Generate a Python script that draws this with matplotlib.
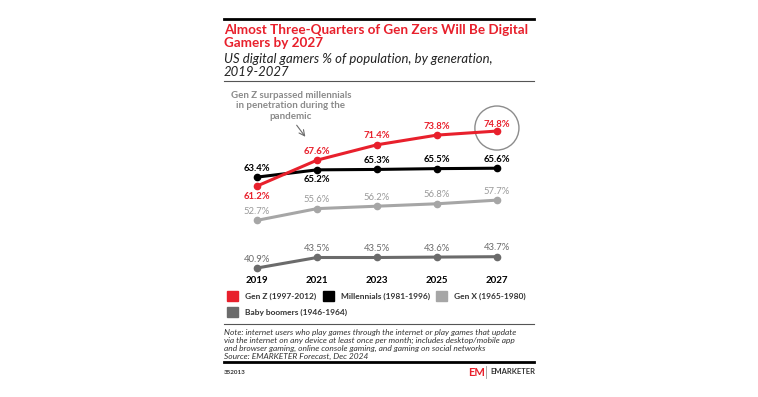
import matplotlib.pyplot as plt
from matplotlib.patches import Rectangle, Ellipse
from matplotlib.lines import Line2D

plt.rcParams['font.family'] = ['Lato', 'DejaVu Sans']

years = [2019, 2021, 2023, 2025, 2027]
gen_z = [61.2, 67.6, 71.4, 73.8, 74.8]
millennials = [63.4, 65.2, 65.3, 65.5, 65.6]
gen_x = [52.7, 55.6, 56.2, 56.8, 57.7]
boomers = [40.9, 43.5, 43.5, 43.6, 43.7]
legend_labels = ["Gen Z (1997-2012)", "Millennials (1981-1996)",
                 "Gen X (1965-1980)", "Baby boomers (1946-1964)"]

RED = '#e8202c'
BLACK = '#000000'
LGRAY = '#a6a6a6'
DGRAY = '#6b6b6b'

W, H = 758, 397
fig = plt.figure(figsize=(W / 100, H / 100), dpi=100)


def fx(x):
    return x / W


def fy(y):
    return 1 - y / H


# plot area
ax = fig.add_axes([fx(240), fy(272), (520 - 240) / W, (272 - 125) / H])
ax.set_xlim(2018.43, 2027.77)
ax.set_ylim(39.91, 76.3)
for s in ax.spines.values():
    s.set_visible(False)
ax.set_yticks([])
ax.set_xticks(years)
ax.set_xticklabels([str(y) for y in years], fontsize=7, fontweight='bold')
ax.tick_params(axis='x', length=0, pad=3)

series = [
    (gen_z, RED, RED, [-11, 9, 9, 9, 7], 'bold'),
    (millennials, BLACK, BLACK, [9, -10, 9, 9, 9], 'bold'),
    (gen_x, LGRAY, '#9a9a9a', [9, 9, 9, 9, 9], 'normal'),
    (boomers, DGRAY, DGRAY, [9, 9, 9, 9, 9], 'normal'),
]
for vals, col, tcol, offs, fw in series[::-1]:
    ax.plot(years, vals, color=col, lw=2.2, marker='o', ms=4.5, clip_on=False)
    for x, v, o in zip(years, vals, offs):
        ax.annotate(f"{v}%", (x, v), xytext=(0, o), textcoords='offset pixels',
                    ha='center', va='center', fontsize=6.8, color=tcol,
                    fontweight=fw)

# circle around final Gen Z value
ax.add_patch(Ellipse((years[-1], gen_z[-1] + 0.75), 1.47, 10.9, fill=False,
                     ec='#8c8c8c', lw=1, clip_on=False))

# annotation
fig.text(fx(291), fy(106), "Gen Z surpassed millennials\nin penetration during the\npandemic",
         ha='center', va='center', fontsize=7, color='#8a8a8a',
         fontweight='bold', linespacing=1.2)
ax.annotate('', xy=(307, H - 139), xytext=(295, H - 123),
            xycoords='figure pixels', textcoords='figure pixels',
            arrowprops=dict(arrowstyle='->', color='#6b6b6b', lw=0.8))

# header
fig.add_artist(Line2D([fx(224), fx(534)], [fy(19), fy(19)], color='black', lw=2))
fig.text(fx(224), fy(30), "Almost Three-Quarters of Gen Zers Will Be Digital",
         ha='left', va='center', fontsize=9.7, fontweight='bold', color=RED)
fig.text(fx(224), fy(43), "Gamers by 2027",
         ha='left', va='center', fontsize=9.7, fontweight='bold', color=RED)
fig.text(fx(224), fy(59), "US digital gamers % of population, by generation,",
         ha='left', va='center', fontsize=9.45, style='italic', color='#222222')
fig.text(fx(224), fy(72), "2019-2027",
         ha='left', va='center', fontsize=9.45, style='italic', color='#222222')
fig.add_artist(Line2D([fx(224), fx(534)], [fy(81), fy(81)], color='#555555', lw=0.8))

# legend
leg_pos = [(227, 296), (323, 296), (436, 296), (227, 312)]
for (lx, ly), col, lab in zip(leg_pos, [RED, BLACK, LGRAY, DGRAY], legend_labels):
    fig.add_artist(Rectangle((fx(lx), fy(ly + 5)), 11 / W, 10 / H,
                             color=col, transform=fig.transFigure))
    fig.text(fx(lx + 18), fy(ly), lab, ha='left', va='center', fontsize=6.0,
             fontweight='bold', color='#333333')

# footer
fig.add_artist(Line2D([fx(224), fx(534)], [fy(324), fy(324)], color='#555555', lw=0.8))
notes = ["Note: internet users who play games through the internet or play games that update",
         "via the internet on any device at least once per month; includes desktop/mobile app",
         "and browser gaming, online console gaming, and gaming on social networks",
         "Source: EMARKETER Forecast, Dec 2024"]
for i, t in enumerate(notes):
    fig.text(fx(224), fy(332 + 8 * i), t, ha='left', va='center', fontsize=6.05,
             style='italic', color='#333333')
fig.add_artist(Line2D([fx(224), fx(534)], [fy(362), fy(362)], color='black', lw=2))
fig.text(fx(224), fy(373), "352013", ha='left', va='center', fontsize=4.5,
         fontweight='bold', color='#333333')
fig.text(fx(468), fy(372), "EM", ha='left', va='center', fontsize=8,
         fontweight='bold', color=RED)
fig.add_artist(Line2D([fx(486), fx(486)], [fy(366), fy(378)], color='#999999', lw=0.6))
fig.text(fx(490), fy(372), "EMARKETER", ha='left', va='center', fontsize=5.5,
         fontweight='bold', color='#333333')

fig.savefig('out.png', dpi=100)
